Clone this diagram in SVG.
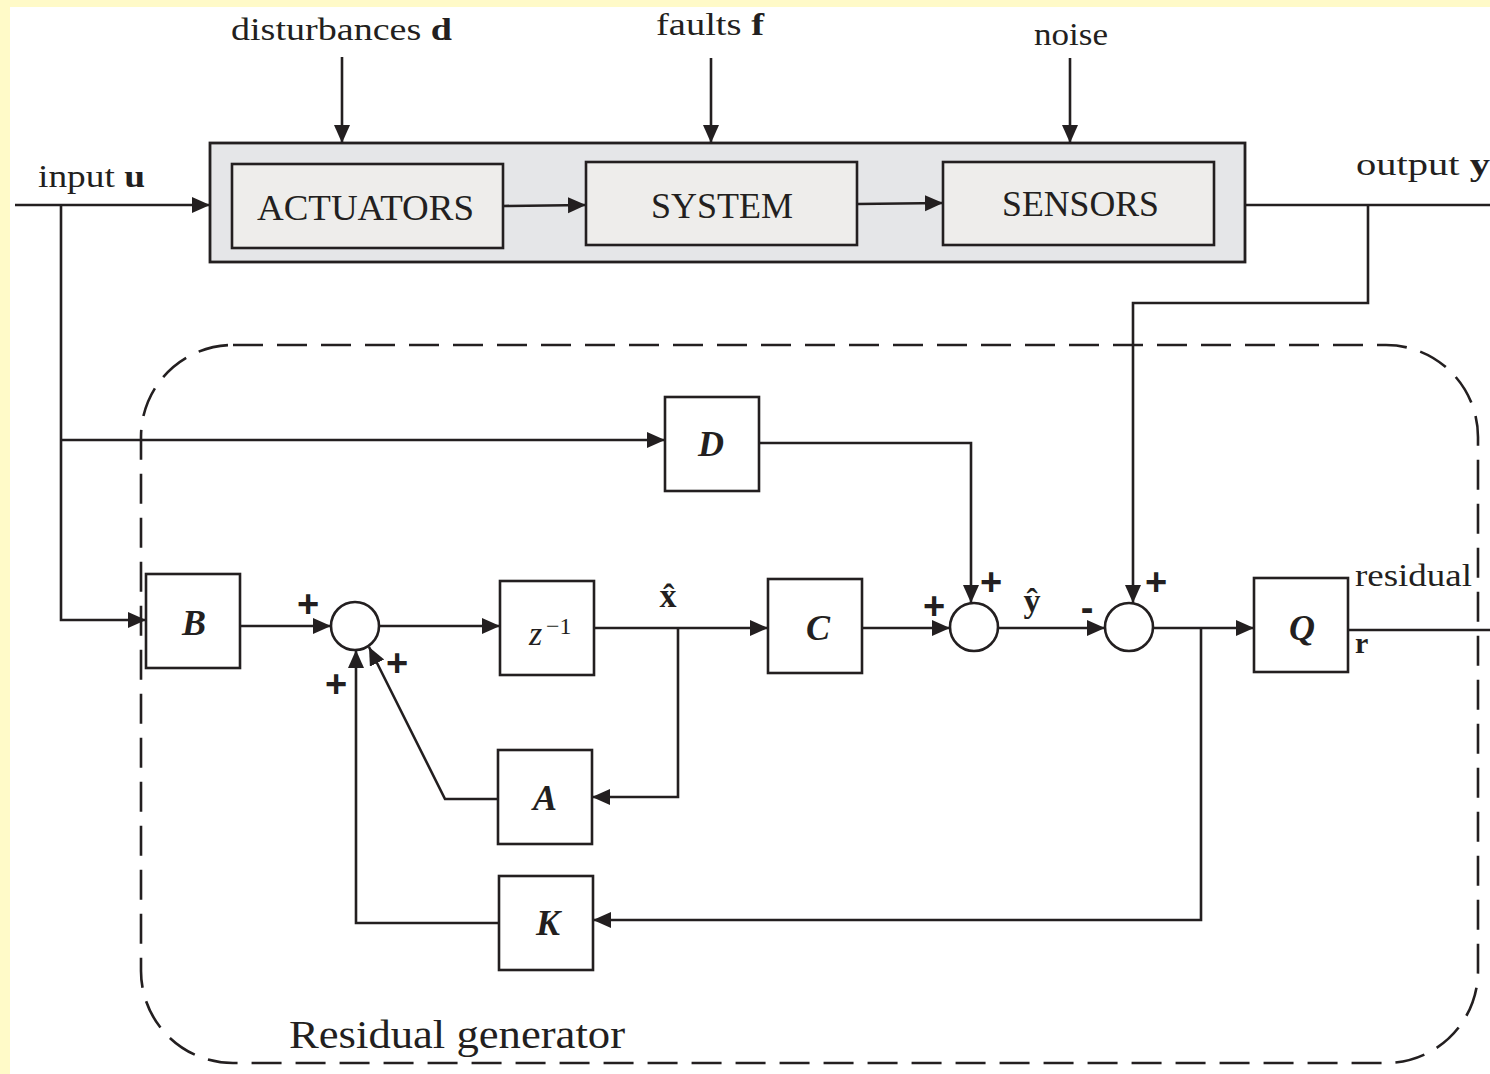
<svg xmlns="http://www.w3.org/2000/svg" width="1490" height="1074" viewBox="0 0 1490 1074">
<defs>
<style>
.ln{fill:none;stroke:#231f20;stroke-width:2.6}
.bx{fill:#ffffff;stroke:#231f20;stroke-width:2.6}
.gb{fill:#eeedeb;stroke:#231f20;stroke-width:2.6}
.t{font-family:"Liberation Serif","DejaVu Serif",serif;fill:#231f20}
.m{font-family:"Liberation Serif","DejaVu Serif",serif;font-weight:bold;font-style:italic;fill:#231f20;font-size:36px;text-anchor:middle}
.p{font-family:"Liberation Sans","DejaVu Sans",sans-serif;font-weight:bold;fill:#231f20;font-size:38px;text-anchor:middle}
</style>
<marker id="ah" markerUnits="userSpaceOnUse" markerWidth="20" markerHeight="18" refX="18" refY="8" orient="auto">
<path d="M0,0 L18,8 L0,16 z" fill="#231f20"/>
</marker>
</defs>
<rect x="0" y="0" width="1490" height="1074" fill="#fffac8"/>
<rect x="10" y="7" width="1480" height="1067" fill="#ffffff"/>

<g id="plant">
<rect x="210" y="143" width="1035" height="119" fill="#e5e6e8" stroke="#231f20" stroke-width="2.8"/>
</g>
<g id="actuators"><rect class="gb" x="232" y="164" width="271" height="84"/><text class="t" x="257" y="220" font-size="36" textLength="217" lengthAdjust="spacingAndGlyphs">ACTUATORS</text></g>
<g id="system"><rect class="gb" x="586" y="162" width="271" height="83"/><text class="t" x="651" y="218" font-size="36" textLength="142" lengthAdjust="spacingAndGlyphs">SYSTEM</text></g>
<g id="sensors"><rect class="gb" x="943" y="162" width="271" height="83"/><text class="t" x="1002" y="216" font-size="36" textLength="157" lengthAdjust="spacingAndGlyphs">SENSORS</text></g>

<g id="residual-generator">
<rect x="141" y="345" width="1337" height="718" rx="92" ry="92" fill="none" stroke="#231f20" stroke-width="2.6" stroke-dasharray="30 14"/>
<text class="t" x="289" y="1048" font-size="40" textLength="336" lengthAdjust="spacingAndGlyphs">Residual generator</text>
</g>

<g id="D"><rect class="bx" x="665" y="397" width="94" height="94"/><text class="m" x="711" y="456">D</text></g>
<g id="B"><rect class="bx" x="146" y="574" width="94" height="94"/><text class="m" x="194" y="635">B</text></g>
<g id="zinv"><rect class="bx" x="500" y="581" width="94" height="94"/><text class="t" x="529" y="645" font-size="34" font-style="italic">z</text><text class="t" x="546" y="634" font-size="24">−1</text></g>
<g id="C"><rect class="bx" x="768" y="579" width="94" height="94"/><text class="m" x="818" y="640">C</text></g>
<g id="A"><rect class="bx" x="498" y="750" width="94" height="94"/><text class="m" x="545" y="810">A</text></g>
<g id="K"><rect class="bx" x="499" y="876" width="94" height="94"/><text class="m" x="548" y="935">K</text></g>
<g id="Q"><rect class="bx" x="1254" y="578" width="94" height="94"/><text class="m" x="1302" y="640">Q</text></g>
<g id="sum0"><circle class="bx" cx="355" cy="626" r="24"/></g>
<g id="sum1"><circle class="bx" cx="974" cy="627" r="24"/></g>
<g id="sum2"><circle class="bx" cx="1129" cy="627" r="24"/></g>

<g id="connectors">
<path class="ln" d="M15,205 H210" marker-end="url(#ah)"/>
<path class="ln" d="M61,205 V620 H146" marker-end="url(#ah)"/>
<path class="ln" d="M61,440 H665" marker-end="url(#ah)"/>
<path class="ln" d="M342,57 V143" marker-end="url(#ah)"/>
<path class="ln" d="M711,58 V143" marker-end="url(#ah)"/>
<path class="ln" d="M1070,58 V143" marker-end="url(#ah)"/>
<path class="ln" d="M503,206 L586,205" marker-end="url(#ah)"/>
<path class="ln" d="M857,204 L943,203" marker-end="url(#ah)"/>
<path class="ln" d="M1245,205 H1490"/>
<path class="ln" d="M1368,205 V303 H1133 V603" marker-end="url(#ah)"/>
<path class="ln" d="M240,626 H331" marker-end="url(#ah)"/>
<path class="ln" d="M379,626 H500" marker-end="url(#ah)"/>
<path class="ln" d="M594,628 H768" marker-end="url(#ah)"/>
<path class="ln" d="M678,628 V797 H592" marker-end="url(#ah)"/>
<path class="ln" d="M498,799 H445 L369,647" marker-end="url(#ah)"/>
<path class="ln" d="M499,923 H356 V650" marker-end="url(#ah)"/>
<path class="ln" d="M862,628 H950" marker-end="url(#ah)"/>
<path class="ln" d="M759,443 H971 V603" marker-end="url(#ah)"/>
<path class="ln" d="M998,628 H1105" marker-end="url(#ah)"/>
<path class="ln" d="M1153,628 H1254" marker-end="url(#ah)"/>
<path class="ln" d="M1201,628 V920 H593" marker-end="url(#ah)"/>
<path class="ln" d="M1348,630 H1490"/>
</g>

<g id="labels">
<text class="t" x="231" y="40" font-size="32" textLength="221" lengthAdjust="spacingAndGlyphs">disturbances <tspan font-weight="bold">d</tspan></text>
<text class="t" x="656" y="35" font-size="32" textLength="108" lengthAdjust="spacingAndGlyphs">faults <tspan font-weight="bold">f</tspan></text>
<text class="t" x="1034" y="45" font-size="32" textLength="74" lengthAdjust="spacingAndGlyphs">noise</text>
<text class="t" x="38" y="187" font-size="32" textLength="107" lengthAdjust="spacingAndGlyphs">input <tspan font-weight="bold">u</tspan></text>
<text class="t" x="1356" y="175" font-size="32" textLength="134" lengthAdjust="spacingAndGlyphs">output <tspan font-weight="bold">y</tspan></text>
<text class="t" x="668" y="607" font-size="34" font-weight="bold" text-anchor="middle">x̂</text>
<text class="t" x="1032" y="612" font-size="34" font-weight="bold" text-anchor="middle">ŷ</text>
<text class="t" x="1355" y="586" font-size="32" textLength="117" lengthAdjust="spacingAndGlyphs">residual</text>
<text class="t" x="1355" y="653" font-size="30" font-weight="bold">r</text>
<text class="p" x="308" y="617">+</text>
<text class="p" x="397" y="676">+</text>
<text class="p" x="336" y="697">+</text>
<text class="p" x="934" y="619">+</text>
<text class="p" x="991" y="595">+</text>
<text class="p" x="1087" y="621">-</text>
<text class="p" x="1156" y="595">+</text>
</g>
</svg>
